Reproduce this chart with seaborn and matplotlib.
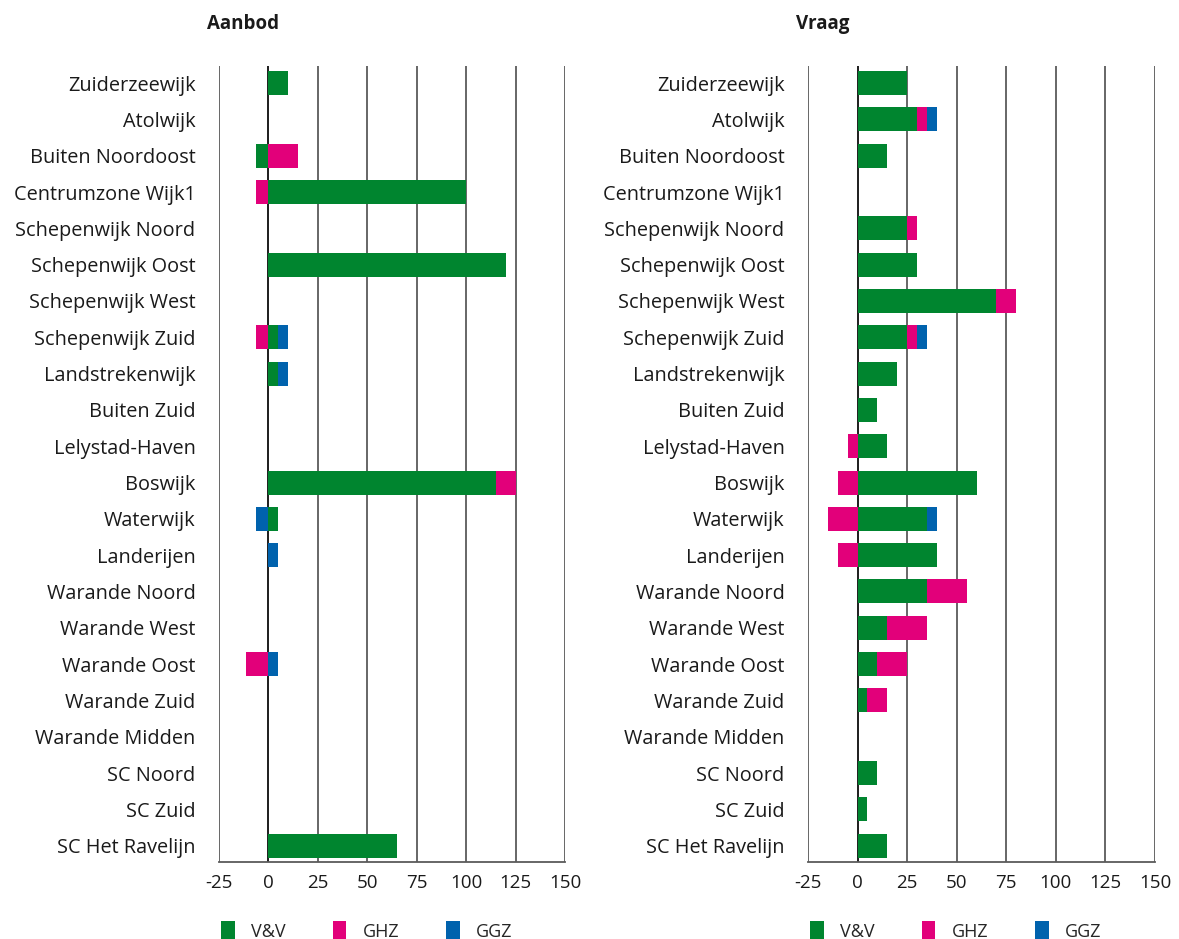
import numpy as np
import pandas as pd
import matplotlib
matplotlib.use('Agg')
import matplotlib.pyplot as plt
from matplotlib.patches import Patch
import seaborn as sns

wijken = ['Zuiderzeewijk', 'Atolwijk', 'Buiten Noordoost', 'Centrumzone Wijk1',
          'Schepenwijk Noord', 'Schepenwijk Oost', 'Schepenwijk West', 'Schepenwijk Zuid',
          'Landstrekenwijk', 'Buiten Zuid', 'Lelystad-Haven', 'Boswijk', 'Waterwijk',
          'Landerijen', 'Warande Noord', 'Warande West', 'Warande Oost', 'Warande Zuid',
          'Warande Midden', 'SC Noord', 'SC Zuid', 'SC Het Ravelijn']

series_names = ['V&V', 'GHZ', 'GGZ']
colors = ['#00852F', '#E2007A', '#0062AD']

# Aanbod
aanbod_vv = [10, 0, -6.5, 100, 0, 120, 0, 5, 5, 0, 0, 115, 5, 0, 0, 0, 0, 0, 0, 0, 0, 65]
aanbod_ghz = [0, 0, 15, -6.5, 0, 0, 0, -6.5, 0, 0, 0, 10, 0, 0, 0, 0, -11.5, 0, 0, 0, 0, 0]
aanbod_ggz = [0, 0, 0, 0, 0, 0, 0, 5, 5, 0, 0, 0, -6.5, 5, 0, 0, 5, 0, 0, 0, 0, 0]

# Vraag
vraag_vv = [25, 30, 15, 0, 25, 30, 70, 25, 20, 10, 15, 60, 35, 40, 35, 15, 10, 5, 0, 10, 5, 15]
vraag_ghz = [0, 5, 0, 0, 5, 0, 10, 5, 0, 0, -5, -10, -15, -10, 20, 20, 15, 10, 0, 0, 0, 0]
vraag_ggz = [0, 5, 0, 0, 0, 0, 0, 5, 0, 0, 0, 0, 5, 0, 0, 0, 0, 0, 0, 0, 0, 0]

xticks = [-25, 0, 25, 50, 75, 100, 125, 150]

sns.set_style('white')
plt.rcParams['font.family'] = ['Open Sans', 'DejaVu Sans']
plt.rcParams['font.size'] = 12.5

fig = plt.figure(figsize=(11.79, 9.39), dpi=100)
ax1 = fig.add_axes([219 / 1179, 77 / 939, 346 / 1179, 796 / 939])
ax2 = fig.add_axes([808 / 1179, 77 / 939, 347 / 1179, 796 / 939])


def stacked(ax, title, vv, ghz, ggz):
    data = np.array([vv, ghz, ggz], dtype=float)
    pos = np.cumsum(np.clip(data, 0, None), axis=0)
    neg = np.cumsum(np.clip(data, None, 0), axis=0)
    # grid + zero line under the bars
    for t in xticks:
        ax.axvline(t, color='#5a5a5a', lw=1.3, zorder=0)
    ax.axvline(0, color='#222222', lw=1.4, zorder=0.5)
    # draw cumulative sums back to front so the segments stack
    for cum in (pos, neg):
        for i in [2, 1, 0]:
            sns.barplot(x=cum[i], y=wijken, order=wijken, orient='y', color=colors[i],
                        width=0.66, errorbar=None, linewidth=0, saturation=1, ax=ax, zorder=2)
    ax.set_xlim(-25, 150)
    ax.set_ylim(len(wijken) - 0.55, -0.47)
    ax.set_xticks(xticks)
    ax.set_xticklabels([str(t) for t in xticks], fontsize=13.5, color='#1a1a1a')
    ax.tick_params(axis='y', length=0, pad=17, labelsize=14.3, labelcolor='#1a1a1a')
    ax.tick_params(axis='x', length=0, pad=9)
    ax.set_xlabel('')
    ax.set_ylabel('')
    for side in ['top', 'left', 'right']:
        ax.spines[side].set_visible(False)
    ax.spines['bottom'].set_color('#5a5a5a')
    ax.spines['bottom'].set_linewidth(1.3)
    handles = [Patch(facecolor=c, edgecolor='none') for c in colors]
    ax.legend(handles, series_names, loc='center left', bbox_to_anchor=(-0.04, -0.087),
              ncol=3, frameon=False, handlelength=0.75, handleheight=1.4,
              handletextpad=0.9, columnspacing=2.6, fontsize=13)
    pos_ax = ax.get_position()
    fig.text(pos_ax.x0 - 12 / 1179, 1 - 24 / 939, title, fontsize=13.5,
             fontweight='bold', ha='left', va='center', color='#1a1a1a')


stacked(ax1, 'Aanbod', aanbod_vv, aanbod_ghz, aanbod_ggz)
stacked(ax2, 'Vraag', vraag_vv, vraag_ghz, vraag_ggz)

fig.savefig('out.png', dpi=100)
